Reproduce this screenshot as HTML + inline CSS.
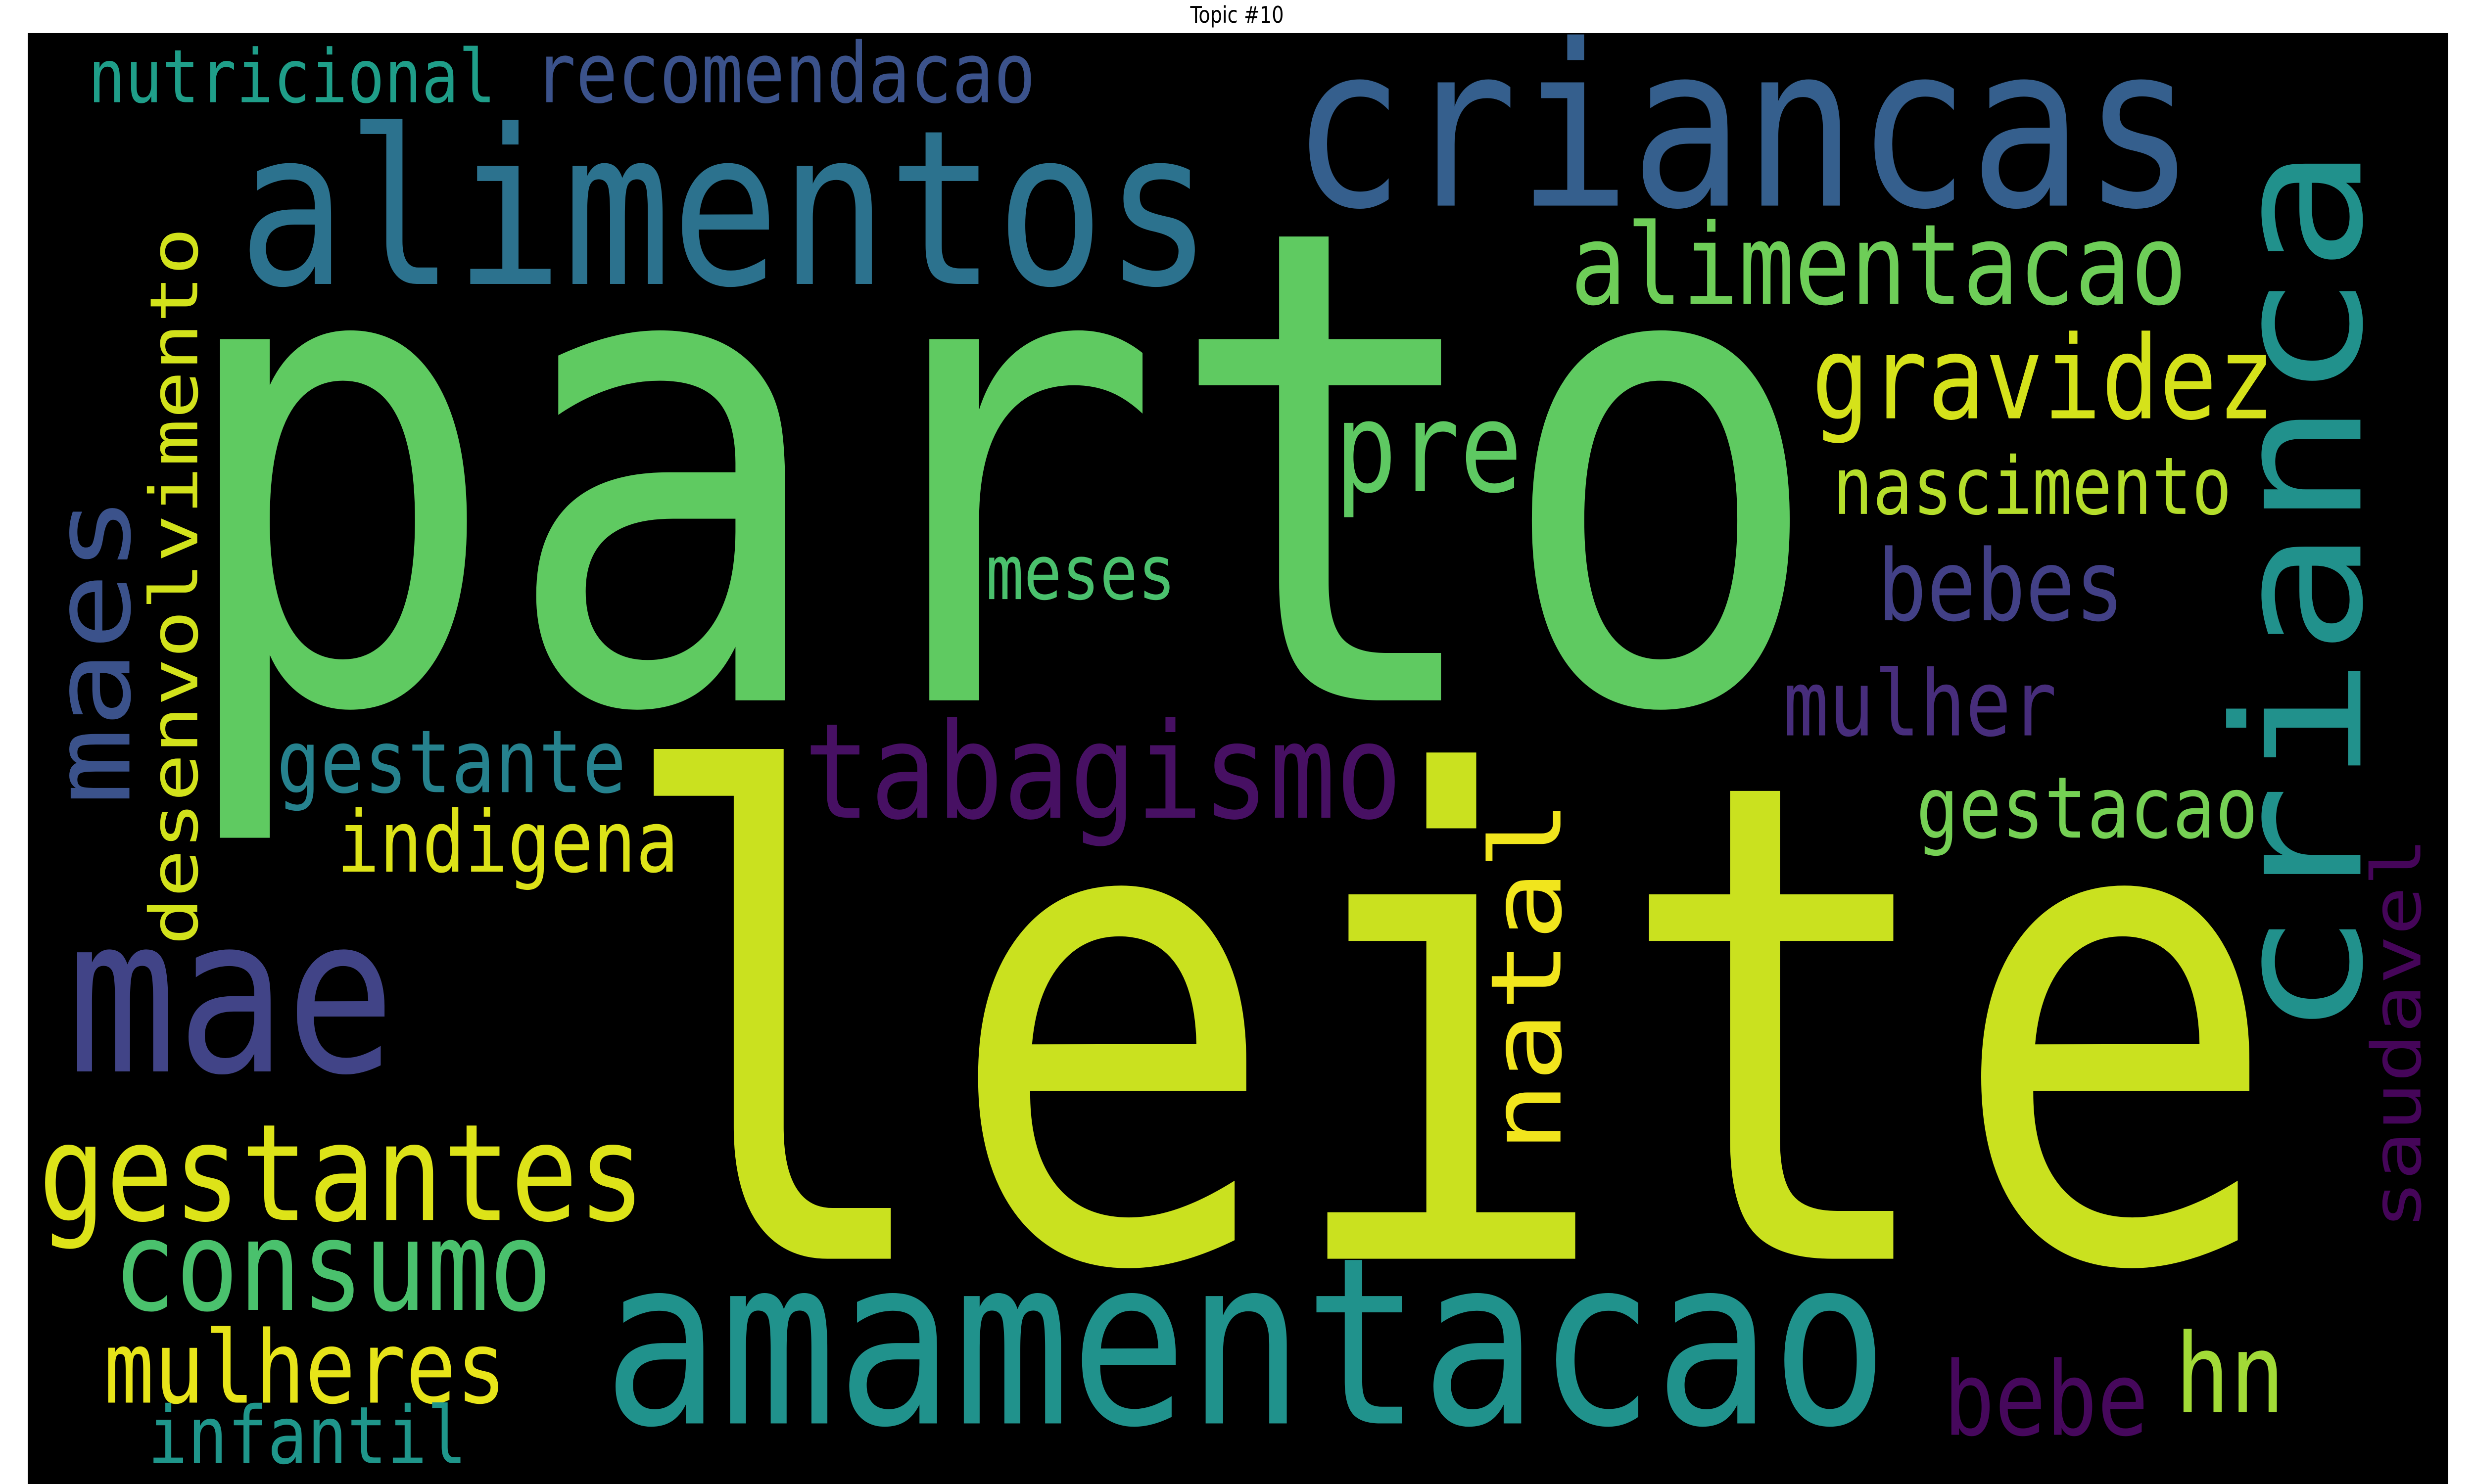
<!DOCTYPE html>
<html><head><meta charset="utf-8">
<style>
html,body{margin:0;padding:0;background:#fff;width:100vw;height:100vh;overflow:hidden;}
svg{display:block;width:100vw;height:100vh;}
</style></head>
<body>
<svg id="chart" xmlns="http://www.w3.org/2000/svg" viewBox="0 0 1568 784" preserveAspectRatio="none">
<rect x="0" y="0" width="1568" height="784" fill="#ffffff"/>
<text x="784" y="12" text-anchor="middle" font-family="'DejaVu Sans','Liberation Sans',sans-serif" font-size="12" fill="#000">Topic #10</text>
<rect x="17.6" y="17.5" width="1534" height="767" fill="#000000"/>
<g id="words" font-family="'DejaVu Sans Mono','Liberation Mono',monospace"></g>
</svg>
<script>
const words = ["parto","leite","alimentos","criancas","crianca","amamentacao","mae","maes","tabagismo","natal","gestantes","consumo","mulheres","infantil","hn","bebe","saudavel","gestacao","mulher","bebes","nascimento","gravidez","alimentacao","pre","meses","recomendacao","nutricional","desenvolvimento","gestante","indigena"];
const sizes = [349,352,114,119,112,123,115,68,70,62,71,66,53,42,58,54,43,45,48,52,42,61,59,66,40,44,39,42,46,45];
const colors = ["#5fca61","#cae11f","#2c728e","#355f8d","#21918c","#20928c","#414487","#3b528b","#471063","#f1e51d","#dde318","#4ac16d","#e7e419","#1f968b","#a2da37","#46085c","#450559","#75d054","#472d7b","#424086","#b5de2b","#d5e21a","#6ece58","#5ec962","#4ac16d","#3b528b","#1f9e89","#d2e21b","#26828e","#dde318"];
const vertical = [0,0,0,0,1,0,0,1,0,1,0,0,0,0,0,0,1,0,0,0,0,0,0,0,0,0,0,1,0,0];
// layout: ink-left (or baseline-x for vertical), baseline (or ink-bottom for vertical)
const anchorX = [135,415,160,828,1496,392,52,82,515,989,30,77,70,97,1383,1236,1534,1218,1134,1194,1165,1153,1000,851,628,342,59,125,179,217];
const anchorY = [370,665,150,108.6,540,752,566,420,432,604,644.5,692,741,773,746,758,646,442.5,388.5,327.6,271.5,221,160.5,259.5,316.5,54,54,496,418.5,460.5];

const g = document.getElementById('words');
const NS = 'http://www.w3.org/2000/svg';
for (let i = 0; i < words.length; i++) {
  const t = document.createElementNS(NS, 'text');
  
  
  t.setAttribute('font-size', sizes[i]);
  t.setAttribute('fill', colors[i]);
  const bear = 0.08 * sizes[i];
  if (vertical[i]) {
    t.setAttribute('x', 0);
    t.setAttribute('y', 0);
    t.setAttribute('transform', 'translate(' + anchorX[i] + ',' + (anchorY[i] + bear) + ') rotate(-90)');
  } else {
    t.setAttribute('x', anchorX[i] - bear);
    t.setAttribute('y', anchorY[i]);
  }
  t.textContent = words[i];
  g.appendChild(t);
}
</script>
</body></html>
